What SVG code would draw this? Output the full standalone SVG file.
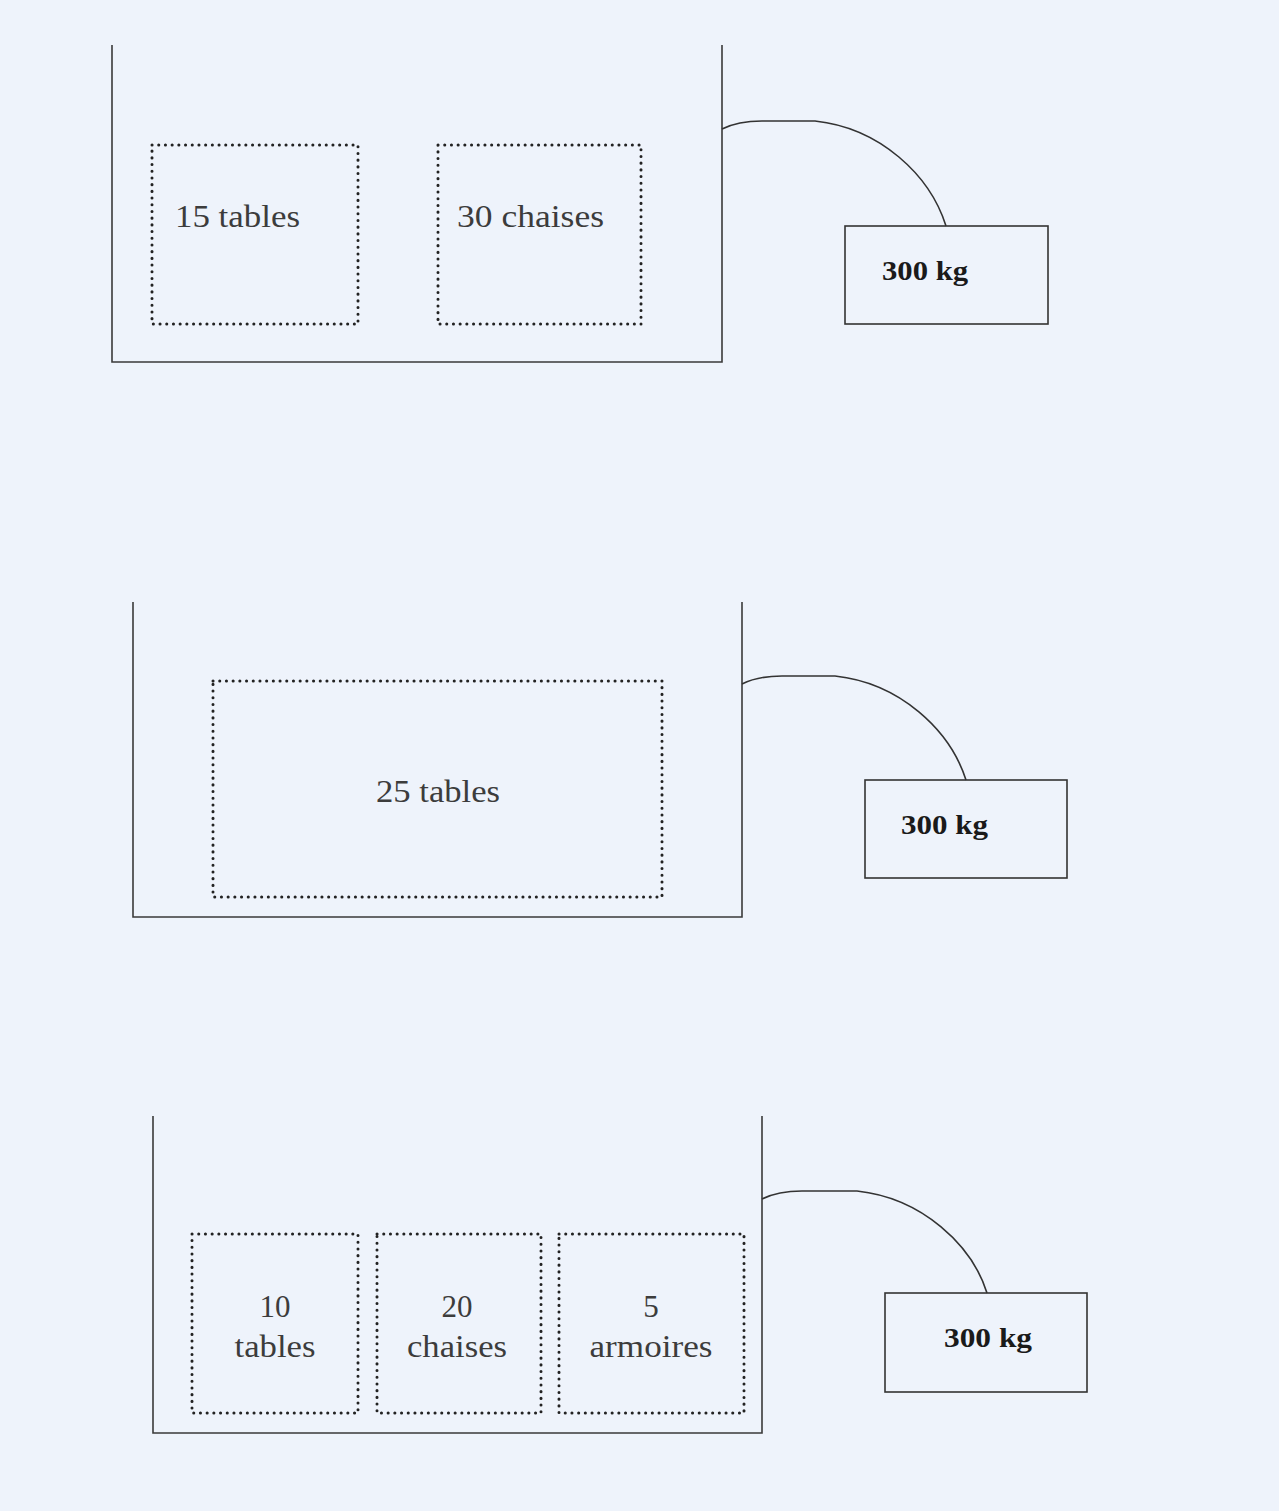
<svg xmlns="http://www.w3.org/2000/svg" width="1279" height="1511" viewBox="0 0 1279 1511">
<style>
.wall{fill:none;stroke:#3a3a3a;stroke-width:1.6}
.dot{fill:none;stroke:#222;stroke-width:3;stroke-linecap:round;stroke-dasharray:0.1 6.6}
.wt{fill:none;stroke:#333;stroke-width:1.6}
.rope{fill:none;stroke:#333;stroke-width:1.6}
.lbl{font-family:"Liberation Serif","Times New Roman",serif;font-size:31px;fill:#3c3c3c}
.kg{font-family:"Liberation Serif","Times New Roman",serif;font-size:28px;font-weight:bold;fill:#1a1a1a}
</style>
<rect width="1279" height="1511" fill="#eef3fb"/>

<g id="scene1">
<path class="wall" d="M112,45 V362 H722 V45"/>
<g id="s1-tables"><rect class="dot" x="152" y="145" width="206" height="179"/>
<text class="lbl" x="175" y="227" textLength="125" lengthAdjust="spacingAndGlyphs">15 tables</text></g>
<g id="s1-chaises"><rect class="dot" x="438" y="145" width="203" height="179"/>
<text class="lbl" x="457" y="227" textLength="147" lengthAdjust="spacingAndGlyphs">30 chaises</text></g>
<g id="s1-weight"><rect class="wt" x="845" y="226" width="203" height="98"/>
<text class="kg" x="882" y="280" textLength="86" lengthAdjust="spacingAndGlyphs">300 kg</text></g>
</g>

<g id="scene2">
<path class="wall" d="M133,602 V917 H742 V602"/>
<g id="s2-tables"><rect class="dot" x="213" y="681" width="449" height="216"/>
<text class="lbl" x="376" y="802" textLength="124" lengthAdjust="spacingAndGlyphs">25 tables</text></g>
<g id="s2-weight"><rect class="wt" x="865" y="780" width="202" height="98"/>
<text class="kg" x="901" y="834" textLength="87" lengthAdjust="spacingAndGlyphs">300 kg</text></g>
</g>

<g id="scene3">
<path class="wall" d="M153,1116 V1433 H762 V1116"/>
<g id="s3-tables"><rect class="dot" x="192" y="1234" width="166" height="179"/>
<text class="lbl" x="275" y="1317" text-anchor="middle">10</text>
<text class="lbl" x="275" y="1357" text-anchor="middle" textLength="81" lengthAdjust="spacingAndGlyphs">tables</text></g>
<g id="s3-chaises"><rect class="dot" x="377" y="1234" width="164" height="179"/>
<text class="lbl" x="457" y="1317" text-anchor="middle">20</text>
<text class="lbl" x="457" y="1357" text-anchor="middle" textLength="100" lengthAdjust="spacingAndGlyphs">chaises</text></g>
<g id="s3-armoires"><rect class="dot" x="559" y="1234" width="185" height="179"/>
<text class="lbl" x="651" y="1317" text-anchor="middle">5</text>
<text class="lbl" x="651" y="1357" text-anchor="middle" textLength="123" lengthAdjust="spacingAndGlyphs">armoires</text></g>
<g id="s3-weight"><rect class="wt" x="885" y="1293" width="202" height="99"/>
<text class="kg" x="944" y="1347" textLength="88" lengthAdjust="spacingAndGlyphs">300 kg</text></g>
</g>

<g id="connectors">
<path class="rope" d="M722,129 Q738,121 762,121 L815,121 C880,128 930,175 946,226"/>
<path class="rope" d="M742,684 Q758,676 782,676 L835,676 C900,683 950,730 966,780"/>
<path class="rope" d="M762,1199 Q778,1191 802,1191 L857,1191 C922,1198 972,1245 987,1293"/>
</g>
</svg>
